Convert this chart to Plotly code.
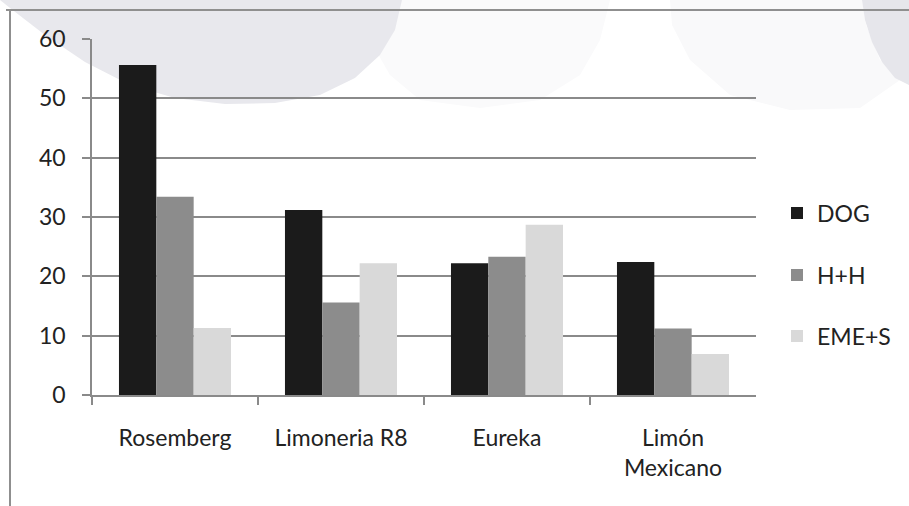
import plotly.graph_objects as go

# Lemon varieties and the three series
categories = ["Rosemberg", "Limoneria R8", "Eureka", "Limón<br>Mexicano"]
dog = [55.6, 31.2, 22.2, 22.4]
hh = [33.4, 15.6, 23.3, 11.2]
emes = [11.3, 22.2, 28.7, 6.9]
series_names = ["DOG", "H+H", "EME+S"]
series_colors = ["#1b1b1b", "#8c8c8c", "#d9d9d9"]
y_ticks = [0, 10, 20, 30, 40, 50, 60]

W, H = 909, 506
FONT = "Lato, 'Open Sans', sans-serif"
TXT = "#222222"


def px(x):
    return x / W


def py(y):
    return 1 - y / H


fig = go.Figure()
legend_ids = ["legend", "legend2", "legend3"]
for name, vals, col, lg in zip(series_names, [dog, hh, emes], series_colors, legend_ids):
    fig.add_trace(go.Bar(name=name, x=categories, y=vals, legend=lg,
                         marker=dict(color=col, line=dict(width=0))))


def path(points):
    return "M " + " L ".join(f"{px(a):.4f},{py(b):.4f}" for a, b in points) + " Z"


# faint background emblem shapes
left_blob = [(0, 0), (402, 0), (395, 30), (380, 55), (355, 78), (320, 95),
             (275, 103), (225, 104), (175, 98), (130, 85), (85, 62), (45, 35), (10, 8)]
mid_blob = [(365, 0), (610, 0), (600, 40), (580, 75), (540, 100), (480, 108),
            (420, 100), (390, 75), (370, 40)]
right_blob = [(862, 0), (909, 0), (909, 85), (895, 78), (882, 62), (872, 42), (865, 20)]
right_soft = [(670, 0), (862, 0), (866, 25), (880, 60), (900, 80), (860, 108),
              (790, 110), (730, 95), (690, 60), (672, 25)]

shapes = [
    dict(type="path", path=path(mid_blob), xref="paper", yref="paper",
         fillcolor="#fafafb", line=dict(width=0), layer="below"),
    dict(type="path", path=path(right_soft), xref="paper", yref="paper",
         fillcolor="#f9f9fa", line=dict(width=0), layer="below"),
    dict(type="path", path=path(left_blob), xref="paper", yref="paper",
         fillcolor="#e8e8ed", line=dict(width=0), layer="below"),
    dict(type="path", path=path(right_blob), xref="paper", yref="paper",
         fillcolor="#e6e6eb", line=dict(width=0), layer="below"),
    # chart frame (top and left edges)
    dict(type="line", xref="paper", yref="paper", x0=px(6), x1=1.0,
         y0=py(10), y1=py(10), line=dict(color="#8f8f8f", width=2)),
    dict(type="line", xref="paper", yref="paper", x0=px(10), x1=px(10),
         y0=py(10), y1=0, line=dict(color="#8f8f8f", width=2)),
]

legend_style = dict(xanchor="left", yanchor="middle", itemwidth=30,
                    font=dict(family=FONT, size=23, color=TXT),
                    bgcolor="rgba(0,0,0,0)", borderwidth=0)
legend_rows = [213, 275, 336]

fig.update_layout(
    width=W, height=H,
    margin=dict(l=0, r=0, t=0, b=0, pad=0),
    paper_bgcolor="white",
    plot_bgcolor="rgba(0,0,0,0)",
    barmode="group",
    bargap=0.325,
    bargroupgap=0,
    font=dict(family=FONT, size=21, color=TXT),
    shapes=shapes,
    showlegend=True,
    legend=dict(x=px(777), y=py(legend_rows[0]), **legend_style),
    legend2=dict(x=px(777), y=py(legend_rows[1]), **legend_style),
    legend3=dict(x=px(777), y=py(legend_rows[2]), **legend_style),
    xaxis=dict(domain=[px(92), px(756)], showgrid=False, automargin=False,
               showline=True, linecolor="#8a8a8a", linewidth=1.5,
               ticks="outside", tickson="boundaries", ticklen=8,
               tickcolor="#8a8a8a", tickwidth=1.5,
               ticklabelstandoff=22,
               tickfont=dict(family=FONT, size=23, color=TXT)),
    yaxis=dict(domain=[py(395), py(39)], range=[0, 60], automargin=False,
               tickvals=y_ticks, showgrid=True, gridcolor="#8a8a8a",
               gridwidth=1.5, showline=True, linecolor="#8a8a8a",
               linewidth=1.5, ticks="outside", ticklen=8,
               tickcolor="#8a8a8a", tickwidth=1.5, zeroline=False,
               ticklabelstandoff=12,
               tickfont=dict(family=FONT, size=23, color=TXT)),
)

fig.write_html("out.html")
